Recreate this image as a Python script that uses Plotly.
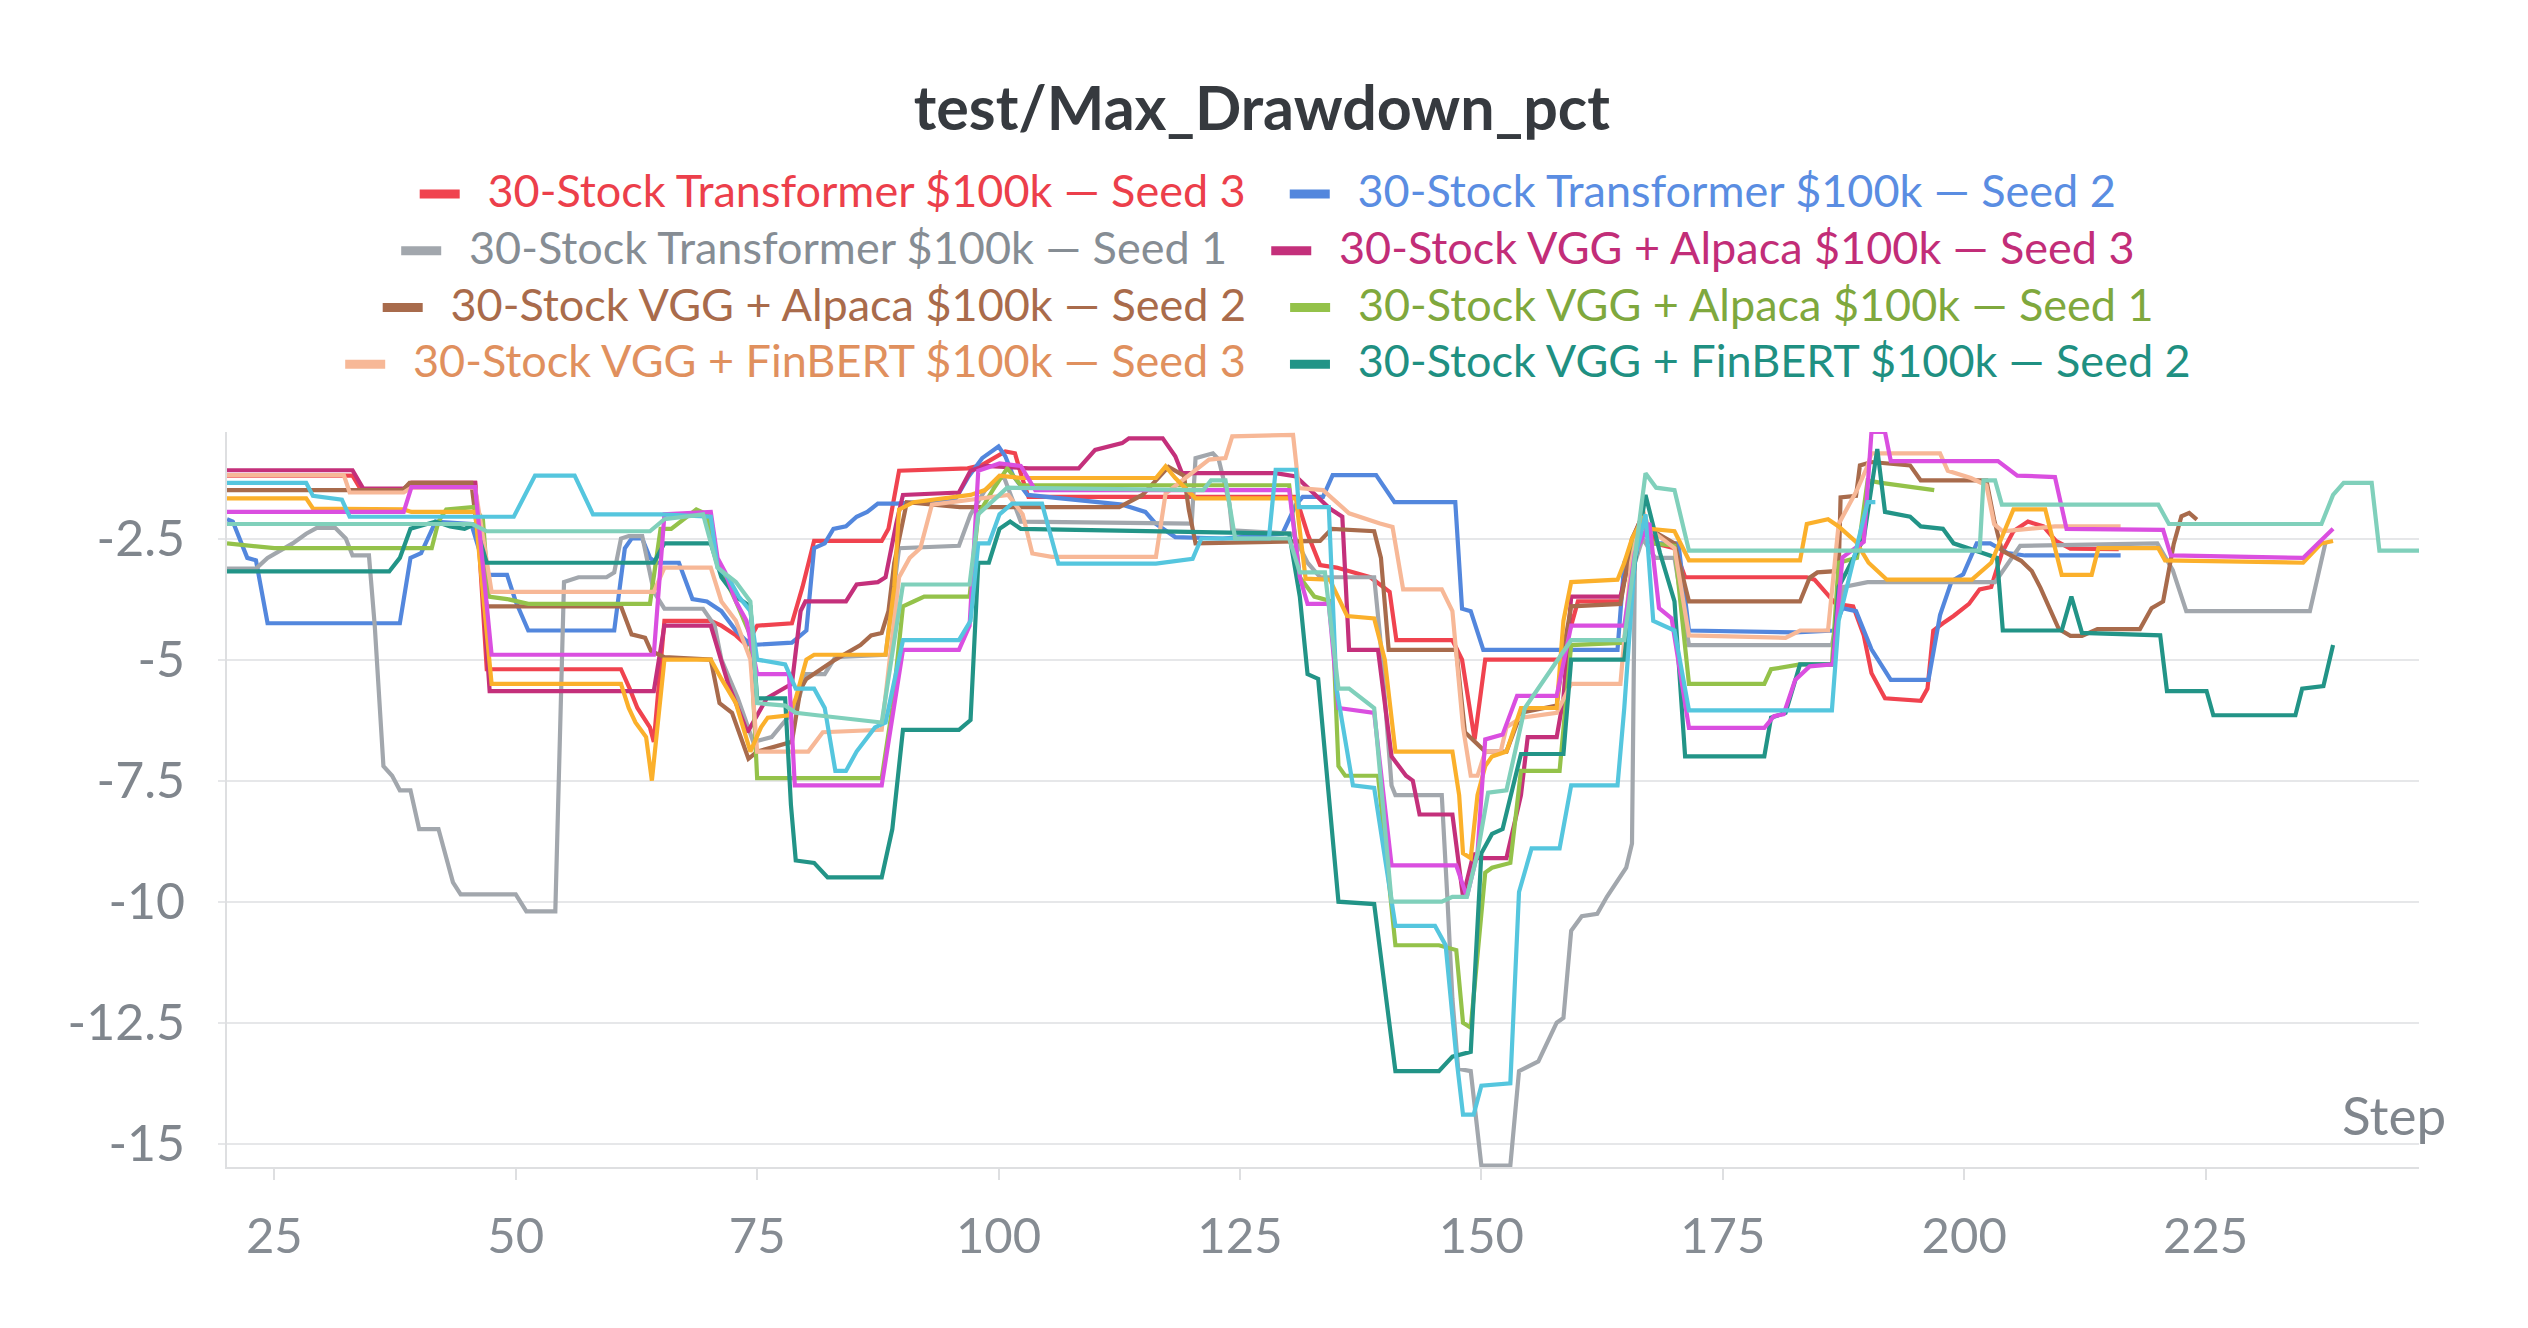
import plotly.graph_objects as go

tf_seed3 = [(20.1, -1.2), (33.1, -1.2), (34, -1.5), (38.4, -1.5), (39.2, -1.35), (45.8, -1.35), (47, -5.2),
            (60.9, -5.2), (61.8, -5.6), (62.6, -6.0), (63.9, -6.4), (64.3, -6.7), (65.4, -4.2), (70.2, -4.2),
            (71.3, -4.3), (72.8, -4.5), (73.9, -4.7), (75, -4.3), (78.6, -4.25), (79.7, -3.5), (80.9, -2.55),
            (87.9, -2.55), (88.6, -2.3), (89.7, -1.1), (96.8, -1.05), (98.3, -0.98), (100.7, -0.7), (101.7, -0.74),
            (102.4, -1.22), (103.1, -1.64), (130.8, -1.64), (132, -2.4), (133.3, -3.05), (135, -3.1), (138.5, -3.3),
            (140.5, -3.6), (141.2, -4.6), (147, -4.6), (148, -5.0), (149.3, -6.65), (150.4, -5.0), (158.1, -5.0),
            (159.3, -4.3), (160, -3.8), (164.4, -3.8), (165.5, -2.6), (166.7, -2.0), (168, -2.6), (170, -2.7),
            (171.1, -3.3), (183.7, -3.3), (184.5, -3.35), (186.7, -3.85), (188.5, -3.9), (189.6, -4.5),
            (190.4, -5.28), (191.8, -5.8), (195.5, -5.85), (196.2, -5.6), (196.8, -4.4), (197.8, -4.25),
            (198.9, -4.1), (200.5, -3.85), (201.6, -3.55), (202.8, -3.5), (203.9, -2.8), (205.1, -2.35),
            (206.6, -2.15), (208.2, -2.25), (209.5, -2.55), (211, -2.71), (216, -2.72)]

tf_seed2 = [(20.1, -2.1), (20.7, -2.15), (22.2, -2.9), (23.1, -2.95), (24.3, -4.25), (38, -4.25), (39.1, -2.9),
            (40.2, -2.8), (41.7, -2.15), (45.4, -2.2), (47, -3.25), (49.1, -3.25), (50, -3.8), (51.3, -4.4),
            (60.2, -4.4), (61.3, -2.7), (62, -2.5), (63.1, -2.5), (63.9, -2.9), (64.6, -3.0), (66.9, -3.0),
            (68.3, -3.75), (69.8, -3.8), (71.3, -4.0), (72.8, -4.4), (74.3, -4.7), (78.6, -4.65), (80.1, -4.4),
            (80.9, -2.7), (82, -2.6), (82.9, -2.3), (84.2, -2.25), (85.3, -2.05), (86.4, -1.95), (87.5, -1.78),
            (89.4, -1.78), (95.5, -1.7), (96.9, -1.22), (98.3, -0.84), (100, -0.6), (100.7, -0.8), (101.5, -1.2),
            (103, -1.6), (112.8, -1.8), (115.2, -1.95), (116.3, -2.2), (118.3, -2.47), (123.2, -2.5),
            (129.4, -2.4), (130.8, -1.8), (131.5, -1.64), (133.6, -1.64), (134.6, -1.19), (139.1, -1.19),
            (141, -1.75), (147.3, -1.75), (148, -3.95), (148.9, -4.0), (150.2, -4.8), (164.1, -4.8), (164.8, -3.0),
            (165.9, -2.5), (167.8, -2.6), (170.4, -2.6), (171.5, -4.4), (182.5, -4.44), (186.5, -4.4),
            (187.4, -3.94), (188.8, -4.0), (190.4, -4.79), (192.4, -5.42), (196.3, -5.42), (197.5, -4.08),
            (198.7, -3.38), (199.9, -3.24), (201.3, -2.6), (202.7, -2.6), (204.5, -2.8), (206.3, -2.85),
            (216.2, -2.85)]

tf_seed1 = [(20.1, -3.12), (23.1, -3.12), (24.3, -2.9), (26.9, -2.6), (28.3, -2.4), (29.4, -2.28), (31.3, -2.28),
            (32.4, -2.5), (33.1, -2.85), (34.8, -2.85), (35.4, -4.3), (36.3, -7.2), (37.2, -7.4), (38, -7.7),
            (39.1, -7.7), (40, -8.5), (42, -8.5), (43.5, -9.6), (44.3, -9.85), (50, -9.85), (51.1, -10.2),
            (54.1, -10.2), (55, -3.4), (56.5, -3.3), (59.4, -3.3), (60.2, -3.2), (60.9, -2.5), (61.7, -2.45),
            (63.1, -2.45), (63.7, -3.0), (64.3, -3.6), (65.4, -3.95), (69.4, -3.95), (70.6, -4.3), (71.3, -5.0),
            (73, -5.8), (74.6, -6.7), (76.5, -6.6), (79, -6.0), (80.1, -5.3), (82, -5.3), (83.1, -4.95),
            (88.3, -4.9), (89.7, -2.7), (95.9, -2.65), (97.1, -2.0), (98.6, -1.5), (100.5, -1.2), (102.3, -2.15),
            (120, -2.19), (120.4, -0.84), (122.2, -0.74), (122.8, -0.87), (123.9, -1.77), (124.2, -2.33),
            (130.5, -2.4), (132, -3.0), (133.3, -3.3), (138.9, -3.3), (139.5, -4.5), (140.7, -7.6), (141.1, -7.8),
            (145.9, -7.8), (146.5, -10.0), (147, -12.0), (147.6, -13.45), (148.9, -13.5), (150, -15.45),
            (153, -15.45), (153.9, -13.5), (155.9, -13.3), (157.8, -12.5), (158.5, -12.4), (159.3, -10.6),
            (160.4, -10.3), (162, -10.25), (163, -9.9), (165, -9.3), (165.6, -8.8), (165.9, -3.0), (166.7, -2.5),
            (168, -2.9), (170, -2.9), (171.5, -4.7), (186.3, -4.7), (187.5, -3.5), (190, -3.4), (203.2, -3.4),
            (205.8, -2.65), (220, -2.6), (221.6, -3.15), (223, -4.0), (235.8, -4.0), (237.4, -2.6)]

alpaca_seed3 = [(20.1, -1.09), (33.1, -1.09), (34.2, -1.47), (38.4, -1.47), (39.2, -1.35), (45.8, -1.35),
                (47.3, -5.65), (64.3, -5.65), (65.4, -4.3), (70.2, -4.3), (72, -5.5), (74, -6.5), (76, -5.8),
                (78.6, -5.5), (79.5, -4.0), (80, -3.8), (84.2, -3.8), (85.3, -3.45), (87.5, -3.4), (88.3, -3.3),
                (89.4, -2.2), (90.1, -1.6), (95.9, -1.55), (97.1, -1.1), (98.6, -1.0), (103.1, -1.05),
                (108.3, -1.05), (110, -0.67), (112.8, -0.53), (113.5, -0.43), (117, -0.43), (118.3, -0.8),
                (119, -1.15), (128.7, -1.15), (130.8, -1.22), (134.3, -1.88), (135.6, -2.05), (136.3, -4.8),
                (139.3, -4.8), (140.7, -7.0), (142.2, -7.4), (142.9, -7.5), (143.6, -8.2), (147, -8.2),
                (148.1, -9.9), (149.2, -9.0), (149.6, -9.1), (152.6, -9.1), (154.1, -7.8), (154.8, -6.6),
                (157.8, -6.6), (158.5, -5.8), (159.3, -3.7), (164.4, -3.7), (165.5, -2.8)]

alpaca_seed2 = [(20.1, -1.5), (38.3, -1.5), (39, -1.35), (45.4, -1.35), (47, -3.9), (60.9, -3.9), (62, -4.48),
                (63.4, -4.55), (64, -4.82), (65.4, -4.95), (70.2, -5.0), (71.1, -5.9), (72.4, -6.1), (74.1, -7.05),
                (75, -6.9), (78.6, -6.7), (79.5, -5.6), (80.1, -5.4), (83.1, -5.0), (85.7, -4.7), (86.8, -4.5),
                (87.9, -4.45), (88.6, -4.0), (89.2, -3.0), (90.5, -1.75), (96, -1.85), (112.5, -1.85),
                (114.9, -1.6), (117.6, -1.02), (119.2, -1.2), (119.7, -1.9), (120.4, -2.6), (133.3, -2.55),
                (134.5, -2.3), (138.9, -2.35), (139.6, -2.9), (140.4, -4.8), (147.4, -4.8), (148.3, -6.5),
                (149.4, -6.7), (150.4, -6.9), (152.6, -6.9), (154.1, -6.1), (157.8, -5.95), (158.6, -4.7),
                (159.3, -3.9), (164.4, -3.85), (165.6, -2.5), (166.3, -2.2), (167.4, -2.3), (170, -2.6),
                (171.5, -3.8), (183, -3.8), (184, -3.31), (184.8, -3.2), (187, -3.17), (187.2, -1.65),
                (188.8, -1.62), (189.2, -0.99), (190.4, -0.92), (194.4, -0.99), (195.5, -1.3), (202.3, -1.3),
                (203.1, -2.11), (203.9, -2.75), (205.9, -2.96), (207, -3.17), (207.9, -3.52), (209.8, -4.37),
                (211, -4.51), (212.2, -4.51), (213.8, -4.37), (218.2, -4.37), (219.4, -3.94), (220.6, -3.8),
                (221.7, -2.61), (222.5, -2.04), (223.3, -1.97), (224.1, -2.11)]

alpaca_seed1 = [(20.1, -2.6), (23.1, -2.65), (25, -2.7), (41.3, -2.7), (42, -2.15), (42.8, -1.9), (45.7, -1.85),
                (46.6, -2.1), (47.2, -3.7), (49.1, -3.75), (51.3, -3.85), (63.9, -3.85), (65, -2.3), (66.1, -2.3),
                (68.7, -1.9), (69.8, -2.0), (70.9, -3.0), (72.8, -3.8), (74.3, -4.5), (75, -7.45), (87.9, -7.45),
                (89, -6.0), (90.1, -3.9), (91.2, -3.8), (92.3, -3.7), (97, -3.7), (97.9, -2.0), (99.4, -1.5),
                (100.9, -1.05), (101.9, -1.3), (102.3, -1.4), (130.1, -1.4), (131.2, -3.3), (132.7, -3.7),
                (134.5, -3.8), (135.2, -7.2), (135.9, -7.4), (139.3, -7.4), (141.1, -10.9), (145.6, -10.9),
                (147.4, -11.0), (148.1, -12.5), (148.9, -12.6), (150.4, -9.4), (151.1, -9.3), (153, -9.2),
                (154.1, -7.3), (158.1, -7.3), (159.3, -4.7), (164.8, -4.65), (165.9, -2.4), (166.7, -2.2),
                (167.8, -2.6), (170, -2.65), (171.5, -5.5), (179.3, -5.5), (180, -5.2), (183, -5.1), (186.3, -5.1),
                (187, -3.0), (188.9, -2.9), (190, -1.3), (191.4, -1.35), (196.9, -1.5)]

finbert_seed3 = [(20.1, -1.19), (32.2, -1.19), (32.8, -1.55), (38.4, -1.55), (39.2, -1.45), (45.8, -1.45),
                 (47.5, -3.6), (64.3, -3.6), (65.4, -3.1), (70.2, -3.1), (71.3, -3.8), (72.8, -4.2), (74.3, -5.0),
                 (75, -6.9), (80.3, -6.9), (81.8, -6.5), (87.9, -6.45), (89, -4.5), (89.7, -3.3), (90.8, -2.9),
                 (91.9, -2.7), (93.1, -1.8), (97.1, -1.7), (101, -1.6), (102.5, -2.0), (103.5, -2.81),
                 (105.5, -2.88), (116.3, -2.88), (117.3, -1.57), (120.4, -1.08), (121.8, -0.87), (123.5, -0.84),
                 (124.2, -0.39), (130.5, -0.36), (131.1, -1.46), (133.6, -1.5), (136.3, -1.98), (139.5, -2.19),
                 (140.8, -2.26), (141.9, -3.55), (145.9, -3.55), (147, -4.0), (147.7, -5.6), (148.1, -6.4),
                 (148.9, -7.4), (149.6, -7.4), (150.4, -6.9), (152, -6.9), (152.6, -6.4), (154.1, -6.2),
                 (157.8, -6.1), (159.3, -5.5), (164.4, -5.5), (165.5, -3.0), (166.7, -1.9), (167.4, -2.3),
                 (170, -2.7), (171.5, -4.5), (181.5, -4.55), (183, -4.4), (185.9, -4.4), (187, -2.2), (188.9, -1.5),
                 (190, -1.0), (190.4, -0.74), (197.5, -0.74), (198.3, -1.1), (200.7, -1.25), (202.3, -1.4),
                 (203.1, -2.2), (204, -2.35), (209.4, -2.25), (216.2, -2.25)]

finbert_seed2 = [(20.1, -3.18), (36.9, -3.18), (38, -2.9), (39.1, -2.3), (41.7, -2.15), (43.2, -2.25),
                 (44.7, -2.3), (45.8, -2.2), (47, -3.0), (64.3, -3.0), (65.4, -2.6), (70.2, -2.6), (71.3, -3.3),
                 (72.8, -3.7), (74.3, -3.9), (75, -5.8), (77.9, -5.8), (78.5, -8.0), (79, -9.15), (80.9, -9.2),
                 (82.3, -9.5), (87.9, -9.5), (89, -8.5), (90.1, -6.45), (95.9, -6.45), (97.1, -6.25), (97.9, -3.0),
                 (99, -3.0), (100.1, -2.3), (101.2, -2.15), (102.3, -2.3), (130.1, -2.4), (131.2, -3.7),
                 (132, -5.3), (133.1, -5.4), (135.2, -10.0), (138.9, -10.05), (141.1, -13.5), (145.6, -13.5),
                 (147, -13.2), (148.9, -13.1), (150, -9.0), (151.1, -8.6), (152.2, -8.5), (154.1, -6.95),
                 (158.5, -6.95), (159.3, -5.0), (164.8, -5.0), (165.9, -3.0), (167, -1.6), (168.5, -2.8),
                 (170, -3.8), (171.1, -7.0), (179.3, -7.0), (180, -6.2), (181.5, -6.1), (183, -5.1), (186.4, -5.1),
                 (187, -3.5), (189.6, -2.5), (191, -0.65), (191.8, -1.95), (194.4, -2.05), (195.5, -2.25),
                 (197.8, -2.3), (198.9, -2.6), (201.9, -2.8), (203.4, -2.9), (204, -4.4), (210.1, -4.4),
                 (211.1, -3.7), (212.2, -4.45), (220.3, -4.5), (221, -5.65), (225.1, -5.65), (225.8, -6.15),
                 (234.3, -6.15), (235, -5.6), (237.2, -5.55), (238.2, -4.7)]

finbert_seed1 = [(20.1, -1.67), (28.3, -1.67), (29, -1.88), (38.4, -1.9), (39.2, -1.95), (45.8, -1.95),
                 (47.5, -5.5), (60.9, -5.5), (61.7, -6.0), (62.4, -6.3), (63.5, -6.6), (64.1, -7.5), (65.4, -5.0),
                 (70.2, -5.0), (71.3, -5.4), (72.8, -5.9), (74.3, -6.9), (75.4, -6.4), (76.1, -6.2), (78.3, -6.15),
                 (79, -5.8), (80.1, -5.0), (80.9, -4.9), (88.3, -4.9), (89.2, -3.5), (89.7, -1.9), (91.2, -1.75),
                 (97.1, -1.6), (98.6, -1.5), (100.1, -1.2), (102.3, -1.25), (116.3, -1.25), (117.3, -1.01),
                 (118.3, -1.25), (120.4, -1.67), (130.8, -1.67), (131.8, -3.33), (134.3, -3.35), (136.1, -4.1),
                 (138.9, -4.15), (140, -5.0), (141.1, -6.9), (147, -6.9), (147.7, -7.8), (148.1, -9.0),
                 (148.9, -9.1), (149.6, -7.8), (150.4, -7.2), (151.1, -7.0), (152.6, -6.9), (154.1, -6.0),
                 (157.8, -6.0), (158.5, -4.2), (159.3, -3.4), (164.1, -3.35), (164.8, -3.0), (165.6, -2.5),
                 (166.7, -2.1), (167.4, -2.3), (170, -2.35), (171.5, -2.95), (183, -2.95), (183.7, -2.2),
                 (185.9, -2.1), (187, -2.25), (188.8, -2.57), (190.1, -3.0), (192, -3.35), (200.8, -3.35),
                 (202.8, -3.0), (205.1, -1.9), (208.4, -1.9), (210.1, -3.25), (213.2, -3.25), (213.9, -2.7),
                 (220.1, -2.7), (220.8, -2.95), (235.1, -3.0), (237, -2.6), (238.2, -2.55)]

combo_seed3 = [(20.1, -1.95), (38.4, -1.95), (39.2, -1.44), (45.8, -1.44), (47.5, -4.9), (64.3, -4.9),
               (65.4, -2.0), (70.2, -1.95), (70.9, -2.9), (71.7, -3.2), (72.8, -3.8), (73.9, -4.2), (75, -5.3),
               (78.3, -5.3), (78.9, -7.6), (87.9, -7.6), (90.1, -4.8), (95.9, -4.8), (97, -4.3), (97.9, -1.1),
               (100.1, -0.95), (102.3, -1.0), (103.8, -1.5), (130.1, -1.5), (131.2, -3.3), (132, -3.85),
               (134.2, -3.85), (135.2, -6.0), (138.9, -6.1), (140.7, -9.25), (147.4, -9.25), (148.5, -9.9),
               (149.6, -9.0), (150.4, -6.65), (152.2, -6.55), (153.7, -5.75), (157.8, -5.75), (159.3, -4.3),
               (164.8, -4.3), (165.9, -2.8), (167.4, -2.18), (168.4, -3.94), (169.7, -4.15), (171.5, -6.41),
               (179.3, -6.41), (180.3, -6.17), (181.3, -6.13), (182.5, -5.42), (184, -5.14), (186.4, -5.1),
               (187.4, -2.89), (189.6, -2.57), (190.4, -0.3), (191.8, -0.3), (192.4, -0.9), (203.5, -0.9),
               (205.5, -1.2), (209.4, -1.23), (210.6, -2.3), (220.6, -2.32), (221.4, -2.85), (235.1, -2.9),
               (238.2, -2.3)]

combo_seed2 = [(20.1, -1.35), (28.3, -1.35), (29, -1.62), (32, -1.7), (32.8, -2.05), (49.8, -2.05), (52, -1.2),
               (56.1, -1.2), (58, -2.0), (65, -2.0), (70.2, -2.05), (70.9, -3.1), (72, -3.3), (73.1, -3.7),
               (74.3, -4.0), (75, -5.0), (77.9, -5.1), (79, -5.6), (80.9, -5.6), (82, -6.0), (83.1, -7.3),
               (84.2, -7.3), (85.3, -6.9), (87.2, -6.4), (88.3, -6.3), (90.1, -4.6), (95.9, -4.6), (97.1, -4.2),
               (97.9, -2.6), (99, -2.6), (100.1, -2.0), (101.4, -1.78), (104.5, -1.78), (106.2, -3.02),
               (116.3, -3.02), (120.1, -2.92), (121, -2.5), (128, -2.5), (128.7, -1.08), (130.8, -1.08),
               (131.1, -1.85), (134.2, -1.85), (135, -5.6), (136.7, -7.6), (138.9, -7.65), (141.1, -10.5),
               (145.2, -10.5), (146.3, -10.9), (147.4, -13.2), (148.1, -14.4), (149.2, -14.4), (150, -13.8),
               (153, -13.75), (153.9, -9.8), (155.2, -8.9), (158.1, -8.9), (159.3, -7.6), (164.1, -7.6),
               (164.8, -6.0), (165.9, -2.9), (167, -2.0), (167.8, -4.2), (170, -4.4), (171.5, -6.05),
               (186.3, -6.05), (187, -4.2), (190, -1.75), (190.8, -1.75)]

combo_seed1 = [(20.1, -2.2), (45.5, -2.2), (47, -2.35), (63.9, -2.35), (65.4, -2.1), (69.4, -2.0), (70.9, -3.1),
               (72.8, -3.4), (74.3, -3.8), (75, -5.9), (77.9, -5.95), (79, -6.1), (81.2, -6.15), (87.9, -6.3),
               (90.1, -3.45), (97, -3.45), (97.9, -2.0), (99.5, -1.7), (100.9, -1.45), (121.2, -1.5), (122, -1.3),
               (123.5, -1.3), (124.5, -2.5), (130.1, -2.5), (131.2, -3.2), (133.8, -3.2), (135.2, -5.6),
               (136.3, -5.6), (138.9, -6.0), (140.7, -10.0), (145.9, -10.0), (147, -9.9), (148.5, -9.9),
               (149.6, -9.0), (150.7, -7.75), (152.6, -7.7), (153.4, -7.0), (154.5, -6.0), (159.3, -4.6),
               (164.8, -4.6), (167, -1.15), (168.1, -1.45), (170, -1.5), (171.5, -2.75), (201.6, -2.75),
               (202, -1.3), (203.2, -1.3), (203.9, -1.8), (220.1, -1.8), (221.2, -2.2), (237, -2.2), (238.2, -1.6),
               (239.3, -1.35), (242.2, -1.35), (243, -2.75), (247.2, -2.75)]

y_ticks = [-2.5, -5, -7.5, -10, -12.5, -15]
y_labels = ["-2.5", "-5", "-7.5", "-10", "-12.5", "-15"]
x_ticks = [25, 50, 75, 100, 125, 150, 175, 200, 225]

# name, points, line colour, legend text colour, legend row (None = not listed)
runs = [
    ("30-Stock Transformer $100k — Seed 3", tf_seed3, "#f0434f", "#ec3f4b", "legend"),
    ("30-Stock Transformer $100k — Seed 2", tf_seed2, "#5387dd", "#5a8de2", "legend"),
    ("30-Stock Transformer $100k — Seed 1", tf_seed1, "#a2a7ad", "#868d94", "legend2"),
    ("30-Stock VGG + Alpaca $100k — Seed 3", alpaca_seed3, "#c4307b", "#c22d78", "legend2"),
    ("30-Stock VGG + Alpaca $100k — Seed 2", alpaca_seed2, "#a86b4c", "#a96b4b", "legend3"),
    ("30-Stock VGG + Alpaca $100k — Seed 1", alpaca_seed1, "#94c24a", "#7fa83d", "legend3"),
    ("30-Stock VGG + FinBERT $100k — Seed 3", finbert_seed3, "#f7b897", "#e0905e", "legend4"),
    ("30-Stock VGG + FinBERT $100k — Seed 2", finbert_seed2, "#229487", "#1f9082", "legend4"),
    ("30-Stock VGG + FinBERT $100k — Seed 1", finbert_seed1, "#fbb02b", "#fbb02b", None),
    ("30-Stock VGG + Alpaca + FinBERT $100k — Seed 3", combo_seed3, "#da4fe0", "#da4fe0", None),
    ("30-Stock VGG + Alpaca + FinBERT $100k — Seed 2", combo_seed2, "#55c6de", "#55c6de", None),
    ("30-Stock VGG + Alpaca + FinBERT $100k — Seed 1", combo_seed1, "#80d0bb", "#80d0bb", None),
]

FONT = "Lato, 'Open Sans', sans-serif"
LEAD = "\u00a0\u2005"   # gap between swatch and label
TRAIL = "\u2002\u00a0"  # gap between the two entries of a row
fig = go.Figure()

for name, pts, color, _, _ in runs:
    fig.add_trace(go.Scatter(
        x=[p[0] for p in pts], y=[p[1] for p in pts],
        mode="lines", name=name, legendgroup=name, showlegend=False,
        line=dict(color=color, width=4.2),
    ))

# thick legend swatches like the W&B panel, one centred legend per row
seen_rows = set()
for name, _, color, text_color, row in runs:
    if row is None:
        continue
    first_in_row = row not in seen_rows
    seen_rows.add(row)
    label = LEAD + name + (TRAIL if first_in_row else "")
    fig.add_trace(go.Scatter(
        x=[None], y=[None], mode="lines", legendgroup=name, legend=row,
        name=f'<span style="color:{text_color};font-size:45px">{label}</span>',
        line=dict(color=color, width=9), hoverinfo="skip",
    ))

row_legend = dict(orientation="h", x=0.475, xanchor="center", yanchor="middle",
                  itemwidth=40, font=dict(family=FONT, size=34),
                  bgcolor="rgba(0,0,0,0)", itemclick=False, itemdoubleclick=False)

fig.update_layout(
    width=2528, height=1328,
    margin=dict(l=219, r=117, t=424, b=169),
    paper_bgcolor="white", plot_bgcolor="white",
    font=dict(family=FONT, size=45, color="#80868d"),
    title=dict(text="test/Max_Drawdown_pct", x=0.496, xanchor="center", y=0.9245, yanchor="middle",
               font=dict(family=FONT, size=61, color="#363a3f", weight=700)),
    legend=dict(row_legend, y=1.3234),
    legend2=dict(row_legend, y=1.2461),
    legend3=dict(row_legend, y=1.1689),
    legend4=dict(row_legend, y=1.0918),
    xaxis=dict(range=[20.1, 247.1], tickvals=x_ticks, showgrid=False, zeroline=False,
               showline=True, linecolor="#dedfe1", linewidth=2,
               ticks="outside", ticklen=11, tickwidth=2, tickcolor="#dedfe1",
               tickfont=dict(size=49, color="#868c93"), ticklabelstandoff=14),
    yaxis=dict(range=[-15.48, -0.3], tickvals=y_ticks, ticktext=y_labels,
               gridcolor="#e6e7e9", gridwidth=2, zeroline=False,
               showline=True, linecolor="#dedfe1", linewidth=2,
               ticks="outside", ticklen=7, tickwidth=2, tickcolor="#e6e7e9",
               tickfont=dict(size=50, color="#80868d"), ticklabelstandoff=23),
    annotations=[dict(text="Step", xref="paper", yref="paper", x=1.0134, y=0.0714,
                      xanchor="right", yanchor="middle", showarrow=False,
                      font=dict(family=FONT, size=53, color="#80868d"))],
)

fig.write_html("out.html")
